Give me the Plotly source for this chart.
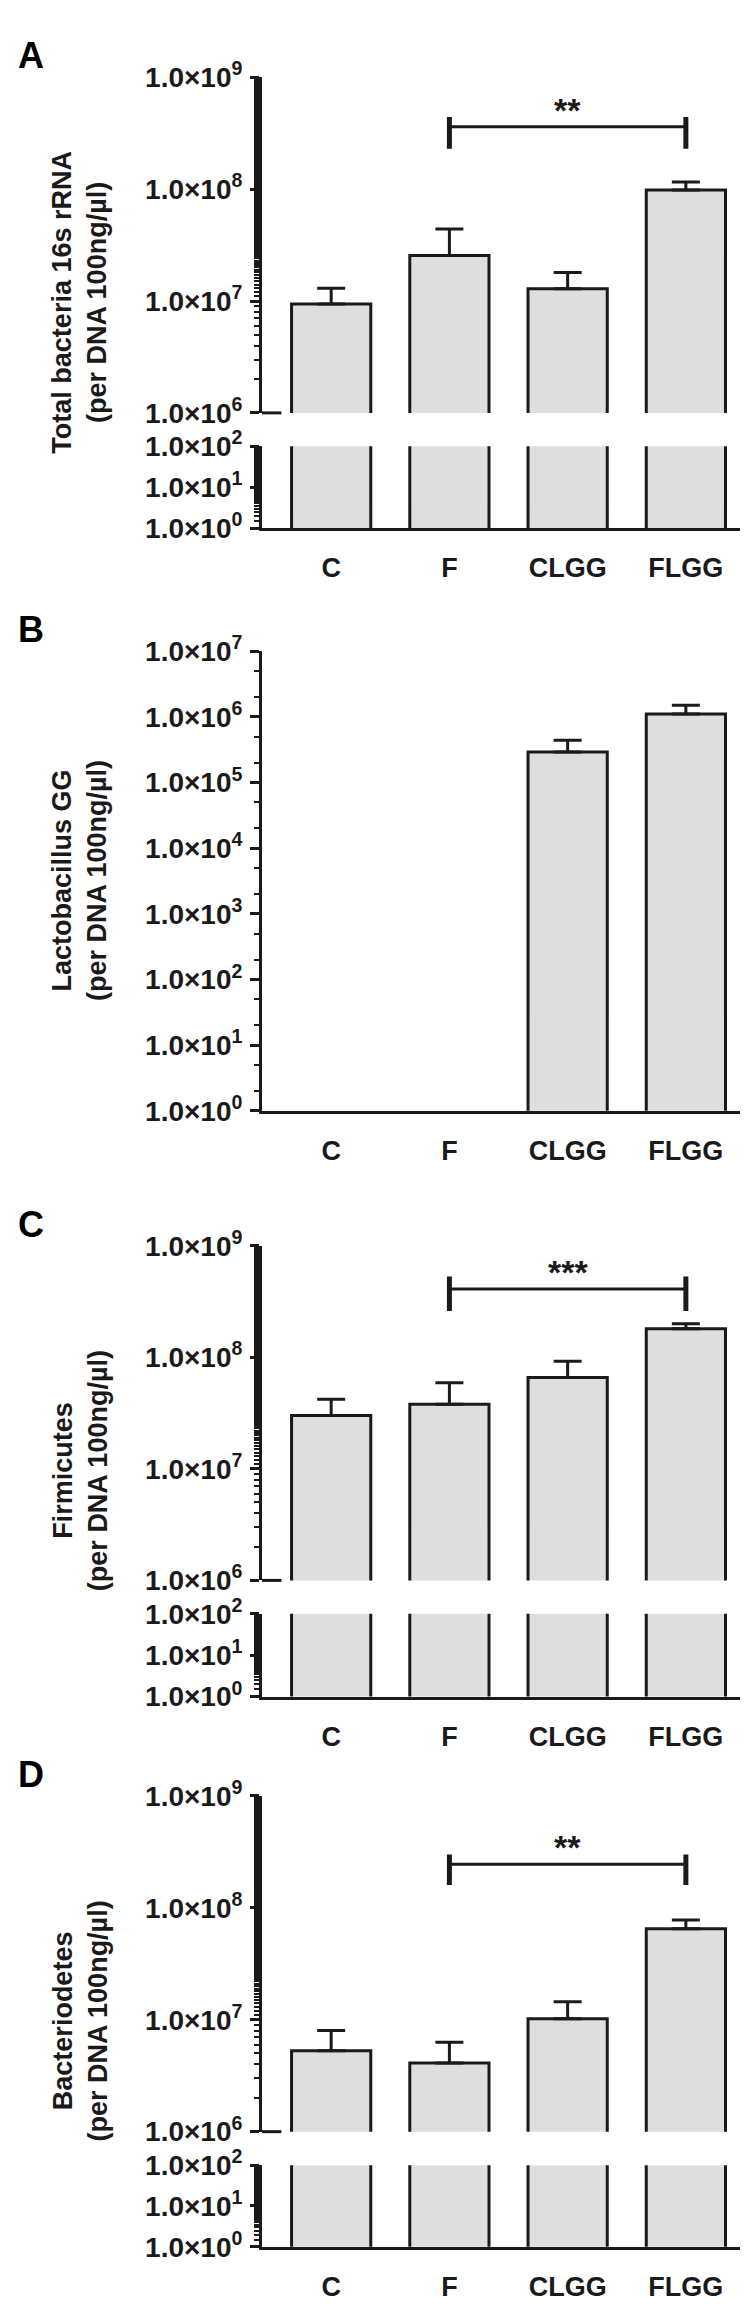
import math
import plotly.graph_objects as go

W, H = 748, 2308
categories = ["C", "F", "CLGG", "FLGG"]

total_mean = [9.4e6, 2.55e7, 1.29e7, 9.8e7]
total_err = [1.3e7, 4.4e7, 1.8e7, 1.16e8]
lgg_mean = [None, None, 2.9e5, 1.1e6]
lgg_err = [None, None, 4.4e5, 1.5e6]
firm_mean = [3.0e7, 3.8e7, 6.6e7, 1.8e8]
firm_err = [4.2e7, 5.9e7, 9.2e7, 2.0e8]
bact_mean = [5.3e6, 4.1e6, 1.02e7, 6.5e7]
bact_err = [8.0e6, 6.3e6, 1.45e7, 7.8e7]

titles = ["Total bacteria 16s rRNA", "Lactobacillus GG", "Firmicutes", "Bacteriodetes"]
subtitle = "(per DNA 100ng/µl)"
letters = ["A", "B", "C", "D"]
sig = [("**", 3.6e8, 2.3e8, 4.4e8), None, ("***", 4.1e8, 2.6e8, 5.3e8), ("**", 2.45e8, 1.6e8, 3.0e8)]

def sup_label(e):
    return "<b>1.0×10<sup>%d</sup></b>" % e

FONT = "Liberation Sans"
fig = go.Figure()
layout = dict(width=W, height=H, margin=dict(l=0, r=0, t=0, b=0),
              plot_bgcolor="white", paper_bgcolor="white", showlegend=False,
              font=dict(family=FONT, color="#1a1a1a", size=24), bargap=0.33)
shapes, annotations = [], []
xdom = [254 / W, 739 / W]

def py(p):
    return 1 - p / H

panels = [
    dict(means=total_mean, errs=total_err, segs=[(50, 391, 6, 9), (425, 508, 0, 2)]),
    dict(means=lgg_mean, errs=lgg_err, segs=[(633, 1100, 0, 7)]),
    dict(means=firm_mean, errs=firm_err, segs=[(1237, 1577, 6, 9), (1611, 1695, 0, 2)]),
    dict(means=bact_mean, errs=bact_err, segs=[(1796, 2137, 6, 9), (2171, 2254, 0, 2)]),
]

ax = 0
for pi, p in enumerate(panels):
    nseg = len(p["segs"])
    for si, (top, bot, lo, hi) in enumerate(p["segs"]):
        ax += 1
        xn = "x" if ax == 1 else "x%d" % ax
        yn = "y" if ax == 1 else "y%d" % ax
        xk = "xaxis" if ax == 1 else "xaxis%d" % ax
        yk = "yaxis" if ax == 1 else "yaxis%d" % ax
        last = si == nseg - 1
        errplus = [(e - m) if (m is not None) else None for m, e in zip(p["means"], p["errs"])]
        fig.add_trace(go.Bar(
            x=categories, y=p["means"], xaxis=xn, yaxis=yn,
            marker=dict(color="#dedede", line=dict(color="#1a1a1a", width=3)),
            error_y=dict(type="data", array=errplus, arrayminus=[0] * 4, symmetric=False,
                         visible=(si == 0), color="#1a1a1a", thickness=3, width=14),
            cliponaxis=True))
        exps = list(range(lo, hi + 1))
        layout[xk] = dict(domain=xdom, anchor=yn, range=[-0.585, 3.517],
                          showline=last, linewidth=3, linecolor="#1a1a1a",
                          ticks="", showticklabels=last, showgrid=False, zeroline=False,
                          tickvals=categories, ticktext=["<b>%s</b>" % c for c in categories],
                          tickfont=dict(size=27, family=FONT, color="#1a1a1a"),
                          ticklabelstandoff=14)
        layout[yk] = dict(domain=[py(bot), py(top)], anchor=xn, type="log", range=[lo, hi],
                          showline=True, linewidth=3, linecolor="#1a1a1a",
                          ticks="outside", ticklen=9, tickwidth=3, tickcolor="#1a1a1a",
                          tickvals=[10 ** e for e in exps], ticktext=[sup_label(e) for e in exps],
                          tickfont=dict(size=28, family=FONT, color="#1a1a1a"),
                          showgrid=False, zeroline=False,
                          minor=dict(ticks="outside", ticklen=5, tickwidth=2,
                                     tickcolor="#1a1a1a", showgrid=False),
                          ticklabelstandoff=2)
        if nseg > 1 and si == 0:
            shapes.append(dict(type="line", xref="x domain" if ax == 1 else "%s domain" % xn,
                               yref="y domain" if ax == 1 else "%s domain" % yn,
                               x0=0, x1=0.04, y0=0, y1=0, line=dict(color="#1a1a1a", width=3)))
        if si == 0 and sig[pi] is not None:
            star, yb, ylo, yhi = sig[pi]
            fig.add_trace(go.Scatter(x=["F", "FLGG"], y=[yb, yb], xaxis=xn, yaxis=yn, mode="lines",
                                     line=dict(color="#1a1a1a", width=3), hoverinfo="skip"))
            fig.add_trace(go.Scatter(x=["F", "F", None, "FLGG", "FLGG"], y=[ylo, yhi, None, ylo, yhi],
                                     xaxis=xn, yaxis=yn, mode="lines", connectgaps=False,
                                     line=dict(color="#1a1a1a", width=5), hoverinfo="skip"))
            annotations.append(dict(text="<b>%s</b>" % star, x=2, y=math.log10(yb), xref=xn, yref=yn,
                                    showarrow=False, yanchor="bottom", yshift=-4,
                                    font=dict(size=34, family=FONT, color="#1a1a1a")))
    ptop = p["segs"][0][0]
    pbot = p["segs"][-1][1]
    annotations.append(dict(text="<b>%s</b>" % letters[pi], x=8 / W, y=py(ptop - 22), xref="paper",
                            yref="paper", xanchor="left", yanchor="middle", showarrow=False,
                            font=dict(size=36, family=FONT, color="black")))
    annotations.append(dict(text="<b>%s</b><br><b>%s</b>" % (titles[pi], subtitle), x=72 / W,
                            y=py((ptop + pbot) / 2), xref="paper", yref="paper", textangle=-90,
                            showarrow=False, xanchor="center", yanchor="middle",
                            font=dict(size=27, family=FONT, color="#1a1a1a")))

layout["shapes"] = shapes
layout["annotations"] = annotations
fig.update_layout(**layout)
fig.write_html("out.html")
